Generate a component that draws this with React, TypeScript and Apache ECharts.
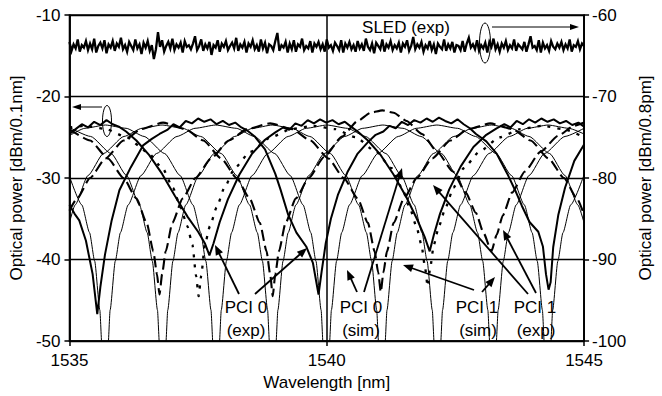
import React, { useEffect, useRef } from 'react';
import * as echarts from 'echarts';

type Pt = [number, number];

const X_RANGE = [1535, 1545];
const LEFT_RANGE = [-50, -10];
const RIGHT_RANGE = [-100, -60];

// PCI 0 (sim) — thin solid, four ports
const SIM0_A: Pt[] = [[1535.0,-29.8],[1535.24,-33.3],[1535.39,-36.7],[1535.49,-40.2],[1535.59,-46.2],[1535.63,-50.6],[1535.66,-56.7],[1535.69,-60],[1535.72,-56.7],[1535.75,-50.6],[1535.79,-46.2],[1535.89,-40.2],[1535.99,-36.7],[1536.14,-33.3],[1536.39,-29.7],[1536.69,-27.0],[1537.09,-24.9],[1537.44,-23.9],[1537.84,-23.5],[1538.24,-23.9],[1538.59,-24.9],[1538.99,-27.0],[1539.29,-29.7],[1539.54,-33.3],[1539.69,-36.7],[1539.79,-40.2],[1539.89,-46.2],[1539.93,-50.6],[1539.96,-56.7],[1539.99,-60],[1540.02,-56.7],[1540.05,-50.6],[1540.09,-46.2],[1540.19,-40.2],[1540.29,-36.7],[1540.44,-33.3],[1540.69,-29.7],[1540.99,-27.0],[1541.39,-24.9],[1541.74,-23.9],[1542.14,-23.5],[1542.54,-23.9],[1542.89,-24.9],[1543.29,-27.0],[1543.59,-29.7],[1543.84,-33.3],[1543.99,-36.7],[1544.09,-40.2],[1544.19,-46.2],[1544.23,-50.6],[1544.26,-56.7],[1544.29,-60],[1544.32,-56.7],[1544.35,-50.6],[1544.39,-46.2],[1544.49,-40.2],[1544.59,-36.7],[1544.74,-33.3],[1545.0,-29.6]];
const SIM0_B: Pt[] = [[1535.0,-23.8],[1535.41,-24.9],[1535.81,-27.0],[1536.11,-29.7],[1536.36,-33.3],[1536.51,-36.7],[1536.61,-40.2],[1536.71,-46.2],[1536.75,-50.6],[1536.78,-56.7],[1536.81,-60],[1536.84,-56.7],[1536.87,-50.6],[1536.91,-46.2],[1537.01,-40.2],[1537.11,-36.7],[1537.26,-33.3],[1537.51,-29.7],[1537.81,-27.0],[1538.21,-24.9],[1538.56,-23.9],[1538.94,-23.5],[1539.32,-23.9],[1539.67,-24.9],[1540.07,-27.0],[1540.37,-29.7],[1540.62,-33.3],[1540.77,-36.7],[1540.87,-40.2],[1540.97,-46.2],[1541.01,-50.6],[1541.04,-56.7],[1541.07,-60],[1541.10,-56.7],[1541.13,-50.6],[1541.17,-46.2],[1541.27,-40.2],[1541.37,-36.7],[1541.52,-33.3],[1541.77,-29.7],[1542.07,-27.0],[1542.47,-24.9],[1542.82,-23.9],[1543.2,-23.5],[1543.58,-23.9],[1543.93,-24.9],[1544.33,-27.0],[1544.63,-29.7],[1544.88,-33.3],[1545.0,-35.5]];
const SIM0_C: Pt[] = [[1535.0,-24.8],[1535.3,-23.9],[1535.7,-23.5],[1536.1,-23.9],[1536.45,-24.9],[1536.85,-27.0],[1537.15,-29.7],[1537.4,-33.3],[1537.55,-36.7],[1537.65,-40.2],[1537.75,-46.2],[1537.79,-50.6],[1537.82,-56.7],[1537.85,-60],[1537.88,-56.7],[1537.91,-50.6],[1537.95,-46.2],[1538.05,-40.2],[1538.15,-36.7],[1538.3,-33.3],[1538.55,-29.7],[1538.85,-27.0],[1539.25,-24.9],[1539.6,-23.9],[1540.0,-23.5],[1540.4,-23.9],[1540.75,-24.9],[1541.15,-27.0],[1541.45,-29.7],[1541.7,-33.3],[1541.85,-36.7],[1541.95,-40.2],[1542.05,-46.2],[1542.09,-50.6],[1542.12,-56.7],[1542.15,-60],[1542.18,-56.7],[1542.21,-50.6],[1542.25,-46.2],[1542.35,-40.2],[1542.45,-36.7],[1542.6,-33.3],[1542.85,-29.7],[1543.15,-27.0],[1543.55,-24.9],[1543.9,-23.9],[1544.3,-23.5],[1544.7,-23.9],[1545.0,-24.6]];
const SIM0_D: Pt[] = [[1535.0,-35.5],[1535.11,-33.3],[1535.36,-29.7],[1535.66,-27.0],[1536.06,-24.9],[1536.41,-23.9],[1536.8,-23.5],[1537.2,-23.9],[1537.55,-24.9],[1537.95,-27.0],[1538.25,-29.7],[1538.5,-33.3],[1538.65,-36.7],[1538.75,-40.2],[1538.85,-46.2],[1538.89,-50.6],[1538.92,-56.7],[1538.95,-60],[1538.98,-56.7],[1539.01,-50.6],[1539.05,-46.2],[1539.15,-40.2],[1539.25,-36.7],[1539.4,-33.3],[1539.65,-29.7],[1539.95,-27.0],[1540.35,-24.9],[1540.7,-23.9],[1541.09,-23.5],[1541.48,-23.9],[1541.83,-24.9],[1542.23,-27.0],[1542.53,-29.7],[1542.78,-33.3],[1542.93,-36.7],[1543.03,-40.2],[1543.13,-46.2],[1543.17,-50.6],[1543.2,-56.7],[1543.23,-60],[1543.26,-56.7],[1543.29,-50.6],[1543.33,-46.2],[1543.43,-40.2],[1543.53,-36.7],[1543.68,-33.3],[1543.93,-29.7],[1544.23,-27.0],[1544.63,-24.9],[1545.0,-23.9]];

// PCI 0 (exp) — thick solid
const EXP0_A: Pt[] = [[1535.0,-33.3],[1535.1,-34.4],[1535.19,-35.2],[1535.32,-37.7],[1535.45,-41.8],[1535.54,-46.7],[1535.6,-43.4],[1535.69,-39.4],[1535.82,-35.2],[1535.97,-31.5],[1536.19,-28.7],[1536.43,-26.0],[1536.6,-25.2],[1536.75,-24.6],[1536.9,-24.1],[1537.02,-23.4],[1537.14,-23.8],[1537.26,-23.0],[1537.38,-23.3],[1537.5,-22.7],[1537.62,-23.1],[1537.74,-22.8],[1537.86,-23.4],[1537.98,-23.0],[1538.1,-23.5],[1538.22,-23.2],[1538.34,-23.8],[1538.46,-24.2],[1538.6,-24.9],[1538.8,-26.5],[1539.0,-29.5],[1539.1,-31.4],[1539.25,-34.5],[1539.41,-36.7],[1539.6,-38.4],[1539.73,-40.4],[1539.84,-44.3],[1539.9,-41.5],[1539.98,-38.0],[1540.08,-35.0],[1540.22,-32.0],[1540.4,-29.3],[1540.6,-27.0],[1540.8,-25.6],[1540.95,-24.7],[1541.1,-24.3],[1541.22,-23.6],[1541.34,-23.9],[1541.46,-23.1],[1541.58,-23.5],[1541.7,-22.9],[1541.82,-23.2],[1541.94,-22.7],[1542.06,-23.1],[1542.18,-22.6],[1542.3,-23.0],[1542.42,-23.3],[1542.54,-22.8],[1542.66,-23.4],[1542.78,-23.9],[1542.9,-24.6],[1543.1,-25.5],[1543.3,-27.0],[1543.51,-29.5],[1543.66,-31.5],[1543.79,-33.4],[1543.94,-35.4],[1544.11,-36.6],[1544.2,-38.4],[1544.26,-41.8],[1544.31,-43.7],[1544.35,-42.8],[1544.4,-38.5],[1544.5,-34.5],[1544.63,-31.2],[1544.81,-27.9],[1545.0,-25.9]];
const EXP0_C: Pt[] = [[1535.0,-24.6],[1535.12,-24.0],[1535.24,-23.4],[1535.36,-23.8],[1535.48,-23.1],[1535.6,-23.5],[1535.72,-22.9],[1535.84,-23.4],[1535.96,-23.7],[1536.1,-24.3],[1536.3,-25.4],[1536.55,-27.2],[1536.8,-29.5],[1537.05,-32.2],[1537.3,-34.8],[1537.5,-36.6],[1537.63,-38.0],[1537.72,-39.5],[1537.8,-38.0],[1537.92,-35.4],[1538.08,-32.6],[1538.3,-29.6],[1538.55,-27.0],[1538.8,-25.3],[1539.0,-24.4],[1539.15,-23.8],[1539.27,-24.1],[1539.39,-23.3],[1539.51,-23.6],[1539.63,-22.9],[1539.75,-23.3],[1539.87,-22.8],[1539.99,-23.2],[1540.11,-22.9],[1540.23,-23.4],[1540.35,-23.1],[1540.47,-23.7],[1540.6,-24.3],[1540.8,-25.4],[1541.05,-27.2],[1541.3,-29.6],[1541.55,-32.4],[1541.75,-35.0],[1541.9,-37.2],[1542.0,-39.0],[1542.08,-37.0],[1542.2,-34.4],[1542.38,-31.4],[1542.6,-28.6],[1542.85,-26.2],[1543.1,-24.7],[1543.3,-23.9],[1543.45,-23.4],[1543.57,-23.8],[1543.69,-23.0],[1543.81,-23.4],[1543.93,-22.8],[1544.05,-23.2],[1544.17,-22.7],[1544.29,-23.1],[1544.41,-22.8],[1544.53,-23.3],[1544.65,-23.0],[1544.77,-23.5],[1544.89,-23.2],[1545.0,-23.7]];

// PCI 1 (exp) — dashed
const EXP1_B: Pt[] = [[1535.0,-24.0],[1535.4,-25.4],[1535.75,-27.6],[1536.05,-30.0],[1536.3,-32.5],[1536.5,-35.5],[1536.63,-39.0],[1536.7,-41.8],[1536.75,-44.3],[1536.8,-41.8],[1536.87,-39.0],[1537.0,-35.5],[1537.2,-32.5],[1537.45,-30.0],[1537.75,-27.6],[1538.1,-25.4],[1538.45,-24.0],[1538.9,-23.3],[1539.33,-24.0],[1539.68,-25.4],[1540.03,-27.6],[1540.33,-30.0],[1540.6,-32.5],[1540.8,-35.5],[1540.93,-39.0],[1541.0,-41.6],[1541.05,-44.0],[1541.1,-41.6],[1541.17,-39.0],[1541.3,-35.5],[1541.5,-32.5],[1541.75,-30.0],[1542.05,-27.6],[1542.4,-25.4],[1542.75,-24.0],[1543.18,-23.3],[1543.61,-24.0],[1543.96,-25.4],[1544.31,-27.6],[1544.61,-30.0],[1544.86,-32.5],[1545.0,-34.5]];
const EXP1_D: Pt[] = [[1535.0,-34.0],[1535.15,-32.5],[1535.4,-30.0],[1535.7,-27.6],[1536.05,-25.4],[1536.4,-24.0],[1536.82,-23.2],[1537.25,-24.0],[1537.6,-25.4],[1537.95,-27.6],[1538.25,-30.0],[1538.5,-32.5],[1538.7,-35.5],[1538.83,-39.0],[1538.9,-41.8],[1538.95,-44.5],[1539.0,-41.8],[1539.07,-39.0],[1539.2,-35.5],[1539.4,-32.5],[1539.65,-30.0],[1539.95,-27.4],[1540.3,-24.9],[1540.6,-23.0],[1540.85,-22.0],[1541.08,-21.7],[1541.3,-22.0],[1541.55,-23.0],[1541.85,-24.6],[1542.15,-26.8],[1542.45,-29.2],[1542.7,-31.8],[1542.9,-34.3],[1543.05,-36.8],[1543.2,-39.0],[1543.3,-37.0],[1543.42,-34.6],[1543.6,-31.8],[1543.85,-29.2],[1544.15,-26.8],[1544.5,-24.8],[1544.8,-23.6],[1545.0,-23.2]];

// PCI 1 (sim) — dotted
const SIM1: Pt[] = [[1535.0,-23.8],[1535.29,-23.6],[1535.71,-24.0],[1536.11,-25.0],[1536.51,-26.8],[1536.81,-28.8],[1537.01,-31.2],[1537.16,-33.6],[1537.29,-35.9],[1537.39,-38.2],[1537.46,-42.0],[1537.51,-44.5],[1537.56,-42.0],[1537.63,-38.2],[1537.73,-35.9],[1537.86,-33.6],[1538.01,-31.2],[1538.21,-28.8],[1538.51,-26.8],[1538.91,-25.0],[1539.31,-24.0],[1539.74,-23.6],[1540.16,-24.0],[1540.56,-25.0],[1540.96,-26.8],[1541.26,-28.8],[1541.46,-31.2],[1541.61,-33.6],[1541.74,-35.9],[1541.84,-38.2],[1541.91,-41.0],[1541.96,-43.3],[1542.01,-41.0],[1542.08,-38.2],[1542.18,-35.9],[1542.31,-33.6],[1542.46,-31.2],[1542.66,-28.8],[1542.96,-26.8],[1543.36,-25.0],[1543.76,-24.0],[1544.19,-23.6],[1544.6,-24.0],[1545.0,-25.0]];

// SLED (exp) on the right axis, sampled every 0.04 nm from 1535 nm
const SLED_START = 1535;
const SLED_STEP = 0.04;
const SLED: number[] = [
-63.3,-64.4,-63.6,-64.1,-63.0,-64.5,-63.7,-64.0,-63.2,-64.3,
-63.5,-64.2,-62.9,-64.6,-63.8,-63.4,-64.1,-63.1,-64.7,-63.6,
-64.0,-63.2,-64.4,-63.5,-63.9,-62.8,-64.2,-63.7,-64.5,-63.3,
-63.8,-64.3,-63.0,-64.1,-63.6,-64.8,-63.4,-64.0,-63.2,-64.4,
-63.7,-65.4,-64.2,-62.1,-63.9,-63.1,-64.5,-63.8,-63.3,-64.1,
-62.9,-64.3,-63.6,-64.0,-63.4,-64.6,-63.2,-63.9,-63.7,-64.2,
-63.5,-62.6,-64.3,-63.8,-63.0,-64.4,-63.6,-64.1,-63.3,-64.9,
-63.7,-64.0,-63.1,-64.5,-63.5,-63.9,-63.2,-64.3,-63.8,-63.4,
-64.1,-62.8,-64.4,-63.6,-64.0,-63.3,-64.6,-63.5,-63.9,-63.1,
-64.2,-63.7,-64.5,-63.0,-64.1,-63.4,-64.7,-63.6,-63.8,-64.3,
-63.2,-62.2,-64.4,-63.7,-64.0,-63.3,-64.6,-63.5,-64.2,-63.1,
-64.5,-63.6,-63.9,-62.9,-64.3,-63.8,-64.1,-63.2,-64.6,-63.5,
-63.9,-63.3,-64.2,-63.6,-64.5,-63.0,-64.0,-63.7,-64.4,-63.4,
-63.8,-64.3,-63.1,-64.6,-63.5,-64.0,-63.3,-64.2,-63.7,-64.5,
-63.2,-64.1,-63.6,-64.4,-62.9,-63.9,-64.3,-63.5,-64.7,-63.4,
-63.8,-64.2,-63.0,-64.5,-63.6,-64.0,-63.2,-64.3,-63.7,-64.1,
-63.4,-64.6,-63.5,-63.9,-63.1,-64.4,-63.8,-62.7,-64.2,-63.6,
-64.0,-63.3,-64.5,-63.7,-64.1,-63.2,-64.3,-63.6,-64.8,-63.5,
-63.9,-64.2,-63.0,-64.4,-63.6,-64.1,-63.3,-64.6,-63.7,-63.8,
-64.3,-63.2,-64.5,-63.5,-62.8,-64.0,-63.6,-64.2,-63.1,-64.4,
-63.7,-64.1,-63.4,-64.6,-63.3,-63.9,-62.9,-64.2,-63.6,-64.5,
-63.5,-64.0,-63.2,-64.3,-63.7,-64.1,-63.0,-64.4,-63.6,-63.9,
-64.2,-63.3,-64.5,-63.6,-62.6,-64.0,-63.8,-64.3,-63.1,-64.6,
-63.4,-64.1,-63.7,-64.4,-63.2,-63.9,-64.2,-63.5,-64.0,-63.3,
-64.3,-63.6,-64.1,-63.0,-64.5,-63.7,-63.9,-63.2,-64.2,-63.5,
-63.8
];

const FONT = '"Liberation Sans", Arial, Helvetica, sans-serif';
const FS = 17;

function arrow(x1: number, y1: number, x2: number, y2: number, w: number, len: number, half: number) {
  const dx = x2 - x1, dy = y2 - y1;
  const d = Math.hypot(dx, dy);
  const ux = dx / d, uy = dy / d;
  const bx = x2 - ux * len, by = y2 - uy * len;
  const px = -uy, py = ux;
  return [
    { type: 'line', z: 100, shape: { x1, y1, x2: bx + ux, y2: by + uy }, style: { stroke: '#000', lineWidth: w } },
    { type: 'polygon', z: 100, shape: { points: [[x2, y2], [bx + px * half, by + py * half], [bx - px * half, by - py * half]] }, style: { fill: '#000' } },
  ];
}

function label(text: string, x: number, y: number) {
  return { type: 'text', z: 100, x, y, style: { text, fill: '#000', font: `${FS}px ${FONT}`, align: 'center', verticalAlign: 'middle' } };
}

export default function App() {
  const ref = useRef<HTMLDivElement>(null);
  useEffect(() => {
    document.body.style.margin = '0';
    const chart = echarts.init(ref.current!, undefined, { renderer: 'svg' });
    const lineSeries = (data: Pt[], style: any, smooth: number | boolean = false) => ({
      type: 'line', data, showSymbol: false, symbol: 'none', smooth, smoothMonotone: 'x',
      silent: true, lineStyle: { color: '#000', ...style }, clip: true, z: 3,
    });
    const thin = { width: 1 };
    const thick = { width: 2 };
    const dashed = { width: 2.1, type: [11, 5] };
    const dotted = { width: 2.3, type: [3, 7] };
    const sledData = SLED.map((v, i) => [SLED_START + i * SLED_STEP, v]);
    const axisLabel = { color: '#000', fontSize: FS, fontFamily: FONT, formatter: (v: number) => String(v) };
    const nameStyle = { color: '#000', fontSize: FS, fontFamily: FONT };
    chart.setOption({
      animation: false,
      grid: { left: 63, right: 62, top: 15, bottom: 54, show: true, borderColor: '#000', borderWidth: 1.5, backgroundColor: 'transparent' },
      xAxis: {
        type: 'value', min: X_RANGE[0], max: X_RANGE[1], interval: 5,
        name: 'Wavelength [nm]', nameLocation: 'middle', nameGap: 33, nameTextStyle: nameStyle,
        axisLine: { lineStyle: { color: '#000', width: 1.5 } },
        axisTick: { show: true, inside: false, length: 5, lineStyle: { color: '#000', width: 1.5 } },
        axisLabel: { ...axisLabel, margin: 11 },
        splitLine: { show: true, lineStyle: { color: '#000', width: 1.5 } },
      },
      yAxis: [
        {
          type: 'value', min: LEFT_RANGE[0], max: LEFT_RANGE[1], interval: 10, position: 'left',
          name: 'Optical power [dBm/0.1nm]', nameLocation: 'middle', nameGap: 40, nameRotate: 90, nameTextStyle: nameStyle,
          axisLine: { show: true, lineStyle: { color: '#000', width: 1.5 } },
          axisTick: { show: true, inside: false, length: 5, lineStyle: { color: '#000', width: 1.5 } },
          axisLabel: { ...axisLabel, margin: 9 },
          splitLine: { show: true, lineStyle: { color: '#000', width: 1.3 } },
        },
        {
          type: 'value', min: RIGHT_RANGE[0], max: RIGHT_RANGE[1], interval: 10, position: 'right',
          name: 'Optical power [dBm/0.8pm]', nameLocation: 'middle', nameGap: 41, nameRotate: 90, nameTextStyle: nameStyle,
          axisLine: { show: true, lineStyle: { color: '#000', width: 1.5 } },
          axisTick: { show: true, inside: false, length: 5, lineStyle: { color: '#000', width: 1.5 } },
          axisLabel: { ...axisLabel, margin: 8 },
          splitLine: { show: false },
        },
      ],
      series: [
        lineSeries(SIM0_A, thin, 0.2), lineSeries(SIM0_B, thin, 0.2), lineSeries(SIM0_C, thin, 0.2), lineSeries(SIM0_D, thin, 0.2),
        lineSeries(SIM1, dotted, 0.2),
        lineSeries(EXP1_B, dashed, 0.2), lineSeries(EXP1_D, dashed, 0.2),
        lineSeries(EXP0_A, thick), lineSeries(EXP0_C, thick),
        { type: 'line', yAxisIndex: 1, data: sledData, showSymbol: false, symbol: 'none', silent: true, lineStyle: { color: '#000', width: 2.3, join: 'miter' }, z: 3 },
      ],
      graphic: [
        label('SLED (exp)', 406, 27),
        { type: 'ellipse', z: 100, shape: { cx: 485, cy: 43, rx: 5.5, ry: 20 }, style: { fill: 'none', stroke: '#000', lineWidth: 1 } },
        ...arrow(492, 27, 579, 27, 1, 9, 3),
        { type: 'ellipse', z: 100, shape: { cx: 107, cy: 121, rx: 4.5, ry: 15.5 }, style: { fill: 'none', stroke: '#000', lineWidth: 1 } },
        ...arrow(102, 107, 72, 107, 1, 9, 3),
        label('PCI 0', 246, 307), label('(exp)', 246, 330),
        label('PCI 0', 361, 307), label('(sim)', 361, 330),
        label('PCI 1', 477, 307), label('(sim)', 478, 330),
        label('PCI 1', 535, 307), label('(exp)', 536, 330),
        ...arrow(239, 294, 215, 245, 1.8, 10, 4),
        ...arrow(255, 294, 307, 248, 1.8, 10, 4),
        ...arrow(357, 292, 347, 270, 1.8, 10, 4),
        ...arrow(364, 292, 402, 168, 1.8, 10, 4),
        ...arrow(474, 290, 403, 265, 1.8, 10, 4),
        ...arrow(482, 292, 495, 277, 1.8, 10, 4),
        ...arrow(528, 294, 433, 185, 1.8, 10, 4),
        ...arrow(536, 293, 503, 230, 1.8, 10, 4),
      ],
    });
    return () => chart.dispose();
  }, []);
  return <div ref={ref} style={{ width: 662, height: 396 }} />;
}
